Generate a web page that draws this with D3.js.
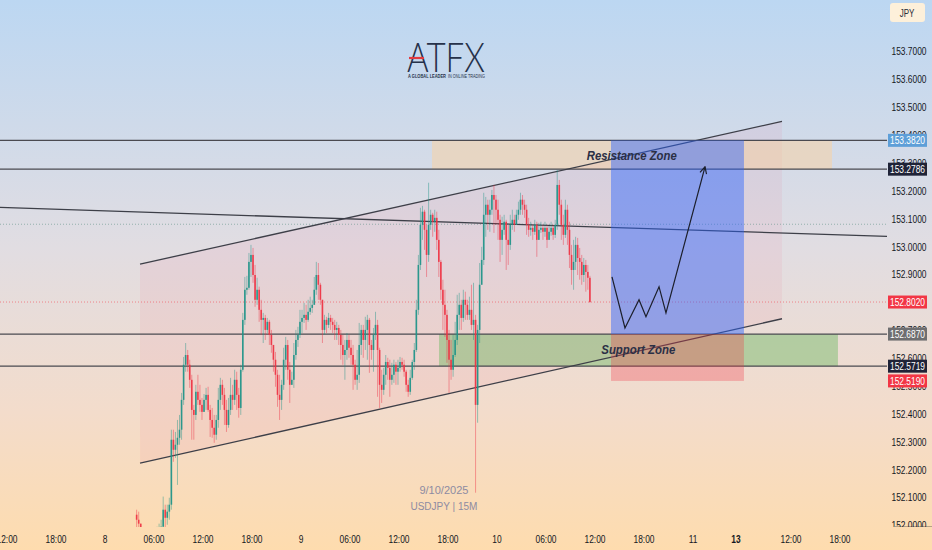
<!DOCTYPE html>
<html><head><meta charset="utf-8">
<script src="https://cdn.jsdelivr.net/npm/d3@7"></script>
<style>html,body{margin:0;padding:0;overflow:hidden;background:#fff}svg{display:block}</style>
</head><body>
<svg id="c" width="932" height="550"></svg>
<script>
// ---------------- DATA ----------------
const symbol = "USDJPY | 15M";
const dateNote = "9/10/2025";
const currency = "JPY";
const firstBarHour = 3.75;      // hours after Sep 8 00:00
const barMinutes = 15;
const firstOpen = 152.039;
const closes = [
152.021,152.007,151.967,151.949,151.956,151.942,151.963,151.949,151.971,151.956,
151.978,151.985,151.996,152.057,152.028,152.050,152.075,152.308,152.272,152.290,
152.315,152.344,152.451,152.577,152.612,152.577,152.523,152.415,152.397,152.480,
152.451,152.433,152.408,152.451,152.469,152.415,152.379,152.351,152.326,152.379,
152.451,152.505,152.469,152.415,152.361,152.415,152.469,152.451,152.523,152.469,
152.422,152.559,152.738,152.846,152.853,152.946,152.971,152.899,152.810,152.846,
152.774,152.738,152.745,152.702,152.731,152.684,152.648,152.595,152.541,152.469,
152.451,152.505,152.595,152.648,152.559,152.505,152.523,152.612,152.666,152.684,
152.731,152.745,152.756,152.738,152.767,152.781,152.792,152.846,152.899,152.864,
152.810,152.702,152.738,152.720,152.745,152.731,152.720,152.702,152.709,152.684,
152.648,152.612,152.630,152.666,152.638,152.612,152.577,152.523,152.541,152.648,
152.702,152.666,152.702,152.738,152.648,152.630,152.684,152.720,152.630,152.505,
152.487,152.541,152.587,152.566,152.523,152.541,152.577,152.552,152.566,152.587,
152.577,152.552,152.505,152.480,152.530,152.587,152.630,152.774,152.935,153.079,
153.126,153.061,152.971,153.079,153.115,153.090,153.104,153.025,152.946,152.846,
152.792,152.756,152.666,152.595,152.559,152.612,152.666,152.756,152.792,152.745,
152.810,152.792,152.756,152.774,152.720,152.738,152.433,152.702,152.864,152.953,
153.115,153.151,153.115,153.133,153.186,153.169,153.133,153.097,153.025,153.061,
153.090,153.025,153.007,153.079,153.097,153.079,153.115,153.133,153.169,153.151,
153.133,153.079,153.061,153.068,153.054,153.079,153.025,153.061,153.068,153.054,
153.068,153.025,153.054,153.068,153.043,153.079,153.222,153.151,153.079,153.043,
153.133,153.061,152.971,152.917,152.946,153.007,152.960,152.946,152.899,152.935,
152.910,152.889,152.802];
const highs = [
152.057,152.050,151.992,151.978,151.971,151.967,151.974,151.978,151.985,151.981,
151.996,152.007,152.021,152.104,152.075,152.075,152.100,152.344,152.344,152.336,
152.379,152.397,152.476,152.605,152.655,152.630,152.595,152.541,152.433,152.505,
152.541,152.505,152.458,152.472,152.494,152.498,152.433,152.422,152.397,152.397,
152.494,152.530,152.523,152.494,152.451,152.458,152.530,152.505,152.559,152.552,
152.494,152.577,152.763,152.892,152.896,152.978,153.007,152.996,152.935,152.889,
152.857,152.810,152.763,152.756,152.745,152.738,152.702,152.648,152.623,152.559,
152.541,152.523,152.638,152.677,152.666,152.587,152.552,152.655,152.702,152.713,
152.774,152.774,152.799,152.792,152.810,152.821,152.810,152.892,152.946,152.942,
152.871,152.810,152.756,152.749,152.763,152.756,152.745,152.738,152.731,152.720,
152.702,152.684,152.666,152.691,152.684,152.666,152.648,152.595,152.630,152.727,
152.720,152.720,152.749,152.756,152.745,152.666,152.709,152.767,152.738,152.638,
152.559,152.566,152.612,152.602,152.595,152.584,152.595,152.587,152.595,152.605,
152.602,152.595,152.559,152.523,152.559,152.595,152.655,152.810,152.971,153.140,
153.147,153.133,153.079,153.230,153.133,153.122,153.133,153.126,153.061,152.953,
152.882,152.846,152.774,152.702,152.666,152.684,152.731,152.828,152.835,152.810,
152.846,152.839,152.810,152.821,152.864,152.871,152.756,152.720,152.942,153.000,
153.194,153.179,153.169,153.169,153.204,153.222,153.186,153.169,153.115,153.108,
153.115,153.097,153.079,153.115,153.133,153.115,153.133,153.162,153.194,153.186,
153.169,153.151,153.104,153.090,153.079,153.097,153.090,153.086,153.090,153.079,
153.090,153.079,153.075,153.090,153.079,153.097,153.276,153.240,153.169,153.115,
153.169,153.151,153.090,153.007,153.025,153.036,153.032,152.996,152.971,152.960,
152.953,152.935,152.896];
const lows = [
151.992,151.985,151.949,151.931,151.927,151.920,151.931,151.935,151.942,151.945,
151.949,151.963,151.971,151.985,151.992,152.003,152.021,152.057,152.229,152.243,
152.146,152.290,152.308,152.433,152.552,152.552,152.494,152.308,152.308,152.379,
152.433,152.408,152.379,152.415,152.415,152.408,152.318,152.315,152.297,152.308,
152.351,152.415,152.433,152.361,152.336,152.351,152.397,152.415,152.433,152.415,
152.387,152.397,152.552,152.720,152.828,152.846,152.892,152.871,152.785,152.792,
152.731,152.684,152.655,152.666,152.691,152.648,152.620,152.552,152.498,152.426,
152.379,152.415,152.487,152.559,152.523,152.440,152.505,152.494,152.595,152.641,
152.673,152.691,152.727,152.702,152.731,152.756,152.763,152.792,152.828,152.810,
152.792,152.655,152.684,152.691,152.709,152.702,152.691,152.666,152.666,152.648,
152.595,152.577,152.523,152.595,152.602,152.577,152.487,152.505,152.487,152.512,
152.612,152.602,152.630,152.595,152.548,152.595,152.552,152.666,152.462,152.422,
152.440,152.469,152.505,152.523,152.462,152.505,152.512,152.505,152.505,152.552,
152.559,152.534,152.480,152.462,152.469,152.523,152.559,152.623,152.756,152.917,
153.025,152.989,152.892,152.946,153.061,153.036,153.054,152.989,152.892,152.810,
152.702,152.677,152.584,152.476,152.523,152.534,152.605,152.648,152.702,152.702,
152.731,152.738,152.738,152.738,152.702,152.666,152.118,152.369,152.655,152.871,
152.935,153.036,153.061,153.054,153.115,153.050,153.079,153.025,152.946,152.971,
153.043,152.917,152.935,152.989,153.061,153.054,153.079,153.097,153.115,153.115,
153.104,153.043,153.036,153.040,153.025,153.043,152.964,153.032,153.050,153.025,
153.036,152.996,153.025,153.040,153.025,153.032,153.061,153.115,153.025,153.007,
153.032,153.007,152.924,152.864,152.846,152.917,152.899,152.882,152.864,152.874,
152.839,152.846,152.799];

// price axis
const priceTicks = [152.0,152.1,152.2,152.3,152.4,152.5,152.6,152.7,152.8,152.9,153.0,153.1,153.2,153.3,153.4,153.5,153.6,153.7];
// time axis (hours after Sep 8 00:00)
const timeTickHours  = [-12,-6,0,6,12,18,24,30,36,42,48,54,60,66,72,77.25,84,90];
const timeTickLabels = ["12:00","18:00","8","06:00","12:00","18:00","9","06:00","12:00","18:00","10","06:00","12:00","18:00","11","13","12:00","18:00"];
const boldTimeLabels = ["13"];

// drawings (hour, price)
const channelUpper = [[4.29,152.938],[82.9,153.450]];
const channelLower = [[4.29,152.224],[82.9,152.742]];
const trendLine = [[0,153.129],[72,153.060]];
const levelLines = [153.3820,153.2786,152.6870,152.5719];
const resistanceZone = {from:40.04,to:89.02,lo:153.2786,hi:153.3820,label:"Resistance Zone",labelHour:64.5,labelPrice:153.331};
const supportZone = {from:40.9,to:89.75,lo:152.5719,hi:152.6870,label:"Support Zone",labelHour:65.3,labelPrice:152.634};
const position = {from:61.96,to:78.24,entry:152.6870,target:153.3820,stop:152.5190};
const pathHours  = [62.08,63.67,65.39,66.24,67.84,68.69,73.47];
const pathPrices = [152.892,152.709,152.810,152.749,152.857,152.763,153.287];
const lastPrice = 152.8020;
const dottedLevel = 153.081;
const priceBadges = [
  {v:153.3820,fill:"#5e9fd8",text:"#ffffff"},
  {v:153.2786,fill:"#1f2337",text:"#ffffff"},
  {v:152.8020,fill:"#f23645",text:"#ffffff"},
  {v:152.6870,fill:"#6e6e70",text:"#ffffff"},
  {v:152.5719,fill:"#1f2337",text:"#ffffff"},
  {v:152.5190,fill:"#f23645",text:"#ffffff"}
];

// ---------------- CHART ----------------
const W = 932, H = 550, plotRight = 887, plotBottom = 527;
const svg = d3.select('#c');
const defs = svg.append('defs');
const g = defs.append('linearGradient').attr('id','bg').attr('x1',0).attr('y1',0).attr('x2',0).attr('y2',1);
[[0,'#bcd7f2'],[0.45,'#e1dde2'],[0.75,'#f3dccb'],[1,'#fedcae']].forEach(([o,c])=>g.append('stop').attr('offset',o).attr('stop-color',c));
defs.append('clipPath').attr('id','plot').append('rect').attr('x',0).attr('y',0).attr('width',plotRight).attr('height',plotBottom);
defs.append('marker').attr('id','arr').attr('viewBox','0 0 10 10').attr('refX',9).attr('refY',5)
  .attr('markerWidth',7).attr('markerHeight',7).attr('orient','auto')
  .append('path').attr('d','M1,1 L9,5 L1,9').attr('fill','none').attr('stroke','#1c1f2b').attr('stroke-width',1.4);

svg.append('rect').attr('width',W).attr('height',H).attr('fill','url(#bg)');

const x = d3.scaleLinear().domain([0,72]).range([105,693]);
const y = d3.scaleLinear().domain([152.0,153.7]).range([525.6,51.7]);

const plot = svg.append('g').attr('clip-path','url(#plot)');

// channel fill
plot.append('path')
  .attr('d', d3.line()([channelUpper[0],channelUpper[1],channelLower[1],channelLower[0]].map(d=>[x(d[0]),y(d[1])])) + 'Z')
  .attr('fill','rgba(236,70,120,0.07)');

// zones
[[resistanceZone,'rgba(255,208,150,0.45)'],[supportZone,'rgba(100,180,90,0.42)']].forEach(([z,c])=>{
  plot.append('rect').attr('x',x(z.from)).attr('width',x(z.to)-x(z.from))
    .attr('y',y(z.hi)).attr('height',y(z.lo)-y(z.hi)).attr('fill',c);
});

// dotted levels
plot.append('line').attr('x1',0).attr('x2',plotRight).attr('y1',y(dottedLevel)).attr('y2',y(dottedLevel))
  .attr('stroke','rgba(90,140,130,0.55)').attr('stroke-dasharray','1,2').attr('stroke-width',1);
plot.append('line').attr('x1',0).attr('x2',plotRight).attr('y1',y(lastPrice)).attr('y2',y(lastPrice))
  .attr('stroke','rgba(242,54,69,0.55)').attr('stroke-dasharray','1,2').attr('stroke-width',1);

// horizontal level lines
levelLines.forEach(v=>{
  plot.append('line').attr('x1',0).attr('x2',plotRight).attr('y1',y(v)).attr('y2',y(v))
    .attr('stroke','#4a4a50').attr('stroke-width',1.2);
});

// trend line, extended
{
  const [a,b] = trendLine;
  const slope = (b[1]-a[1])/(b[0]-a[0]);
  const h0 = x.invert(0), h1 = x.invert(plotRight);
  plot.append('line').attr('x1',0).attr('x2',plotRight)
    .attr('y1',y(a[1]+slope*(h0-a[0]))).attr('y2',y(a[1]+slope*(h1-a[0])))
    .attr('stroke','#3d3f48').attr('stroke-width',1.3);
}
// channel lines
[channelUpper,channelLower].forEach(l=>{
  plot.append('line').attr('x1',x(l[0][0])).attr('y1',y(l[0][1])).attr('x2',x(l[1][0])).attr('y2',y(l[1][1]))
    .attr('stroke','#3d3f48').attr('stroke-width',1.3);
});

// position boxes
plot.append('rect').attr('x',x(position.from)).attr('width',x(position.to)-x(position.from))
  .attr('y',y(position.target)).attr('height',y(position.entry)-y(position.target)).attr('fill','rgba(41,98,255,0.45)');
plot.append('rect').attr('x',x(position.from)).attr('width',x(position.to)-x(position.from))
  .attr('y',y(position.entry)).attr('height',y(position.stop)-y(position.entry)).attr('fill','rgba(242,54,69,0.3)');

// candles
const bars = closes.map((c,i)=>{
  const o = i===0 ? firstOpen : closes[i-1];
  const t = firstBarHour + i*barMinutes/60;
  return {t, o, c, h:Math.max(highs[i],o,c), l:Math.min(lows[i],o,c)};
});
const barW = x(firstBarHour+barMinutes/60)-x(firstBarHour);
const cg = plot.append('g');
bars.forEach(b=>{
  const up = b.c>=b.o;
  const col = up ? '#1f9488' : '#ee3344';
  const cx = x(b.t)+barW/2;
  cg.append('line').attr('x1',cx).attr('x2',cx).attr('y1',y(b.h)).attr('y2',y(b.l))
    .attr('stroke',col).attr('stroke-opacity',0.45).attr('stroke-width',1);
  const top = y(Math.max(b.o,b.c)), bot = y(Math.min(b.o,b.c));
  cg.append('rect').attr('x',cx-barW*0.4).attr('width',barW*0.8)
    .attr('y',top).attr('height',Math.max(0.8,bot-top)).attr('fill',col).attr('fill-opacity',0.9);
});

// projection path
plot.append('path')
  .attr('d', d3.line()(pathHours.map((h,i)=>[x(h),y(pathPrices[i])])))
  .attr('fill','none').attr('stroke','#1c1f2b').attr('stroke-width',1.2).attr('marker-end','url(#arr)');

// zone labels
[[resistanceZone,90],[supportZone,74]].forEach(([z,len])=>{
  svg.append('text').attr('x',x(z.labelHour)).attr('y',y(z.labelPrice)+5)
    .attr('text-anchor','middle').attr('font-family','Liberation Sans, Arial, sans-serif')
    .attr('font-size',13.5).attr('font-style','italic').attr('font-weight',700)
    .attr('textLength',len).attr('lengthAdjust','spacingAndGlyphs')
    .attr('fill','#2b2f45').text(z.label);
});

// chart notes
const noteT = svg.append('g');
noteT.append('text').attr('x',x(41.5)).attr('y',y(152.128)+4).attr('text-anchor','middle')
  .attr('font-family','Liberation Sans, Arial, sans-serif').attr('font-size',11).attr('fill','#8d8ba2').text(dateNote);
noteT.append('text').attr('x',x(41.5)).attr('y',y(152.072)+4).attr('text-anchor','middle')
  .attr('font-family','Liberation Sans, Arial, sans-serif').attr('font-size',10).attr('fill','#8d8ba2').text(symbol);

// logo
const logo = svg.append('g');
logo.append('text').attr('x',407).attr('y',72).attr('font-family','Lato, Open Sans, sans-serif')
  .attr('font-weight',300).attr('font-size',41).attr('fill','#27324a')
  .attr('textLength',78).attr('lengthAdjust','spacingAndGlyphs').text('ATFX');
logo.append('line').attr('x1',409).attr('x2',424).attr('y1',58).attr('y2',58).attr('stroke','#e23a3f').attr('stroke-width',2.2);
logo.append('text').attr('x',408).attr('y',77.5).attr('font-family','Liberation Sans, Arial, sans-serif')
  .attr('font-size',4.6).attr('font-weight',700).attr('fill','#27324a')
  .attr('textLength',38).attr('lengthAdjust','spacingAndGlyphs').text('A GLOBAL LEADER');
logo.append('text').attr('x',448).attr('y',77.5).attr('font-family','Liberation Sans, Arial, sans-serif')
  .attr('font-size',4.6).attr('fill','#27324a')
  .attr('textLength',37).attr('lengthAdjust','spacingAndGlyphs').text('IN ONLINE TRADING');

// ---------------- AXES ----------------
function condText(sel, tx, ty, txt, opts={}){
  return sel.append('text').attr('transform',`translate(${tx},${ty}) scale(${opts.sx||0.8},1)`)
    .attr('text-anchor','middle').attr('font-family','Liberation Sans, Arial, sans-serif')
    .attr('font-size',opts.size||10.5).attr('font-weight',opts.weight||400)
    .attr('fill',opts.fill||'#131722').text(txt);
}
const ax = svg.append('g');
defs.append('clipPath').attr('id','paxis').append('rect').attr('x',plotRight).attr('y',0).attr('width',W-plotRight).attr('height',plotBottom);
const pax = ax.append('g').attr('clip-path','url(#paxis)');
// tick labels that a badge covers entirely are not drawn
priceTicks.filter(v=>!priceBadges.some(b=>Math.abs(y(b.v)-y(v))<3)).forEach(v=>condText(pax, 909, y(v)+3.7, v.toFixed(4)));
pax.append('line').attr('x1',895).attr('x2',932).attr('y1',plotBottom).attr('y2',plotBottom).attr('stroke','#131722').attr('stroke-width',0.6);
priceBadges.forEach(b=>{
  pax.append('rect').attr('x',888).attr('y',y(b.v)-6.5).attr('width',39).attr('height',13).attr('fill',b.fill);
  condText(pax, 907.5, y(b.v)+3.7, b.v.toFixed(4), {fill:b.text});
});
// currency box
ax.append('rect').attr('x',890).attr('y',3).attr('width',35).attr('height',19).attr('rx',3).attr('fill','#fdf0da');
condText(ax, 907, 16.5, currency, {size:10, fill:'#2a2e39'});

// time axis
defs.append('clipPath').attr('id','taxis').append('rect').attr('x',0).attr('y',plotBottom).attr('width',plotRight).attr('height',H-plotBottom);
const tax = ax.append('g').attr('clip-path','url(#taxis)');
timeTickHours.forEach((h,i)=>{
  const lab = timeTickLabels[i];
  condText(tax, x(h), 543, lab, {weight: boldTimeLabels.includes(lab)?700:400});
});
</script>
</body></html>
